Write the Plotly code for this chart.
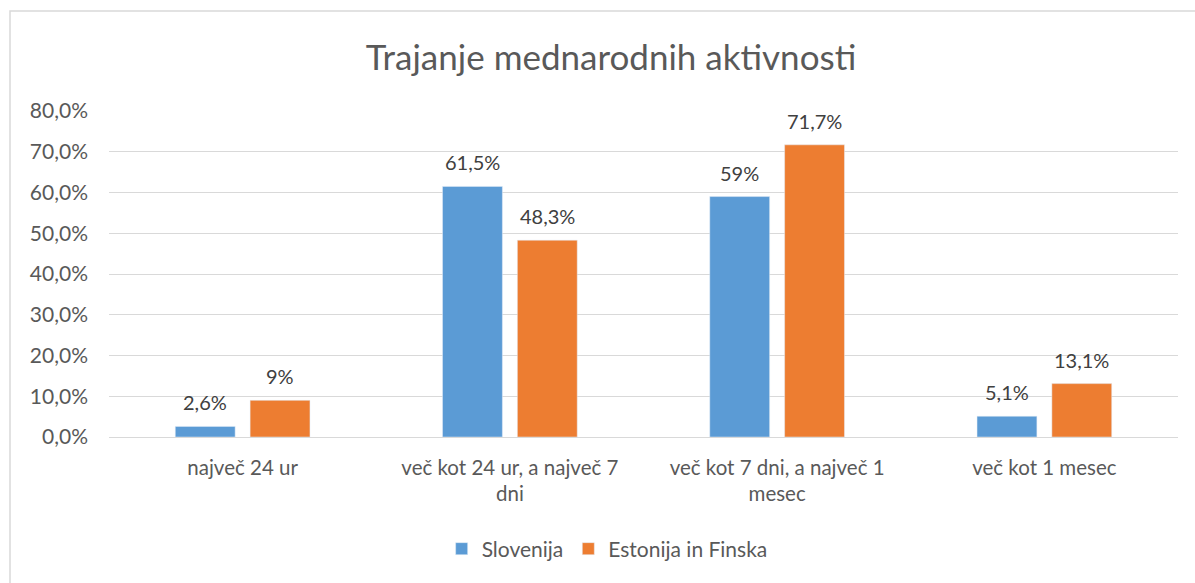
import plotly.graph_objects as go

categories = ["največ 24 ur", "več kot 24 ur, a največ 7<br>dni",
              "več kot 7 dni, a največ 1<br>mesec", "več kot 1 mesec"]
slovenija = [2.6, 61.5, 59, 5.1]
estonija_finska = [9, 48.3, 71.7, 13.1]
tick_vals = [0, 10, 20, 30, 40, 50, 60, 70, 80]

def fmt(v):
    return ("%g" % v).replace(".", ",") + "%"

FONT = "Lato, 'Open Sans', sans-serif"
TXT = "#595959"
W, H = 1195, 583
L, R, T, B = 109, 17, 111, 146
BARGAP, GROUPGAP = 0.44, 0.2
slot = (W - L - R) / len(categories) * (1 - BARGAP) / 2

fig = go.Figure()
series = [("Slovenija", slovenija, "#5B9BD5", -1), ("Estonija in Finska", estonija_finska, "#ED7D31", 1)]
for name, vals, color, side in series:
    fig.add_trace(go.Bar(name=name, x=categories, y=vals, marker=dict(color=color)))
    for c, v in zip(categories, vals):
        fig.add_annotation(x=c, y=v, xref="x", yref="y", text=fmt(v), showarrow=False,
                           xshift=side * slot / 2, yshift=24, yanchor="middle",
                           font=dict(size=20, color="#404040", family=FONT))

fig.update_layout(
    width=W, height=H,
    margin=dict(l=L, r=R, t=T, b=B),
    paper_bgcolor="white", plot_bgcolor="white",
    font=dict(family=FONT, color=TXT, size=20),
    title=dict(text="Trajanje mednarodnih aktivnosti", x=611 / W, xanchor="center",
               y=1 - 58 / H, yanchor="middle",
               font=dict(size=35, color=TXT, family=FONT)),
    barmode="group", bargap=BARGAP, bargroupgap=GROUPGAP,
    legend=dict(orientation="h", x=0.466, xanchor="center", y=-(549 - 437) / 326, yanchor="middle",
                font=dict(size=21, color=TXT), traceorder="normal"),
    showlegend=True,
)
fig.update_yaxes(range=[0, 80], tickvals=tick_vals,
                 ticktext=[("%.1f" % v).replace(".", ",") + "%" for v in tick_vals],
                 showgrid=True, gridcolor="#D9D9D9", gridwidth=1.3,
                 zeroline=False, showline=False, ticks="",
                 ticklabelstandoff=20,
                 tickfont=dict(size=21, color=TXT), automargin=False)
fig.update_xaxes(showline=True, linecolor="#D9D9D9", linewidth=1.3, ticks="",
                 ticklabelstandoff=12,
                 tickfont=dict(size=20.5, color=TXT), automargin=False)

fig.add_shape(type="rect", xref="paper", yref="paper",
              x0=(10 - L) / (W - L - R), x1=1.2, y0=-1.0, y1=(437 - 11) / 326,
              line=dict(color="#D9D9D9", width=1.5), layer="below")

fig.write_html("out.html", config={"displayModeBar": False})
with open("out.html", encoding="utf-8") as f:
    html = f.read()
html = html.replace("<head>", "<head><style>html,body{margin:0;padding:0;overflow:hidden}</style>", 1)
with open("out.html", "w", encoding="utf-8") as f:
    f.write(html)
